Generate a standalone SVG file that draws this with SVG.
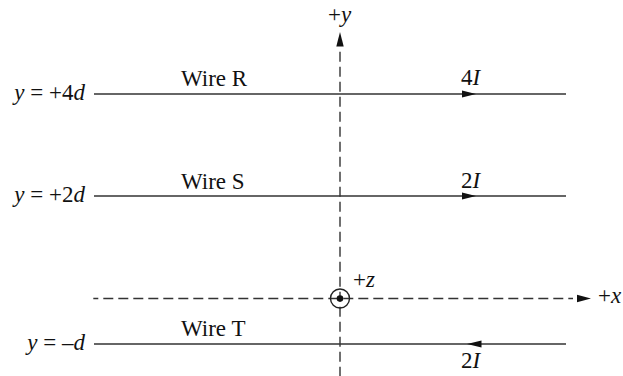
<svg xmlns="http://www.w3.org/2000/svg" width="623" height="376" viewBox="0 0 623 376">
<style>
  text { font-family: "Liberation Serif", "Times New Roman", serif; font-size: 23px; fill: #111; }
  .it { font-style: italic; }
  .wire { stroke: #333; stroke-width: 1.4; fill: none; }
  .axis { stroke: #333; stroke-width: 1.4; fill: none; stroke-dasharray: 10 5; }
  .head { fill: #111; stroke: none; }
</style>
<rect width="623" height="376" fill="#fff"/>
<g id="axes">
  <line class="axis" x1="340" y1="51.7" x2="340" y2="376"/>
  <polygon class="head" points="340,32 336.3,46.5 343.7,46.5"/>
  <text x="328" y="22">+<tspan class="it">y</tspan></text>
  <line class="axis" x1="93.3" y1="298.5" x2="573" y2="298.5" stroke-dashoffset="5"/>
  <polygon class="head" points="591,298.5 577,294.8 577,302.2"/>
  <text x="598" y="303">+<tspan class="it">x</tspan></text>
</g>
<g id="origin">
  <circle cx="340" cy="298.5" r="9.5" fill="none" stroke="#222" stroke-width="1.4"/>
  <circle cx="340" cy="298.5" r="3.3" fill="#111"/>
  <text x="353" y="287">+<tspan class="it">z</tspan></text>
</g>
<g id="wire-r">
  <line class="wire" x1="94" y1="94" x2="566" y2="94"/>
  <polygon class="head" points="476,94 462,90.5 462,97.5"/>
  <text x="181" y="86">Wire R</text>
  <text x="461" y="85">4<tspan class="it">I</tspan></text>
  <text x="85" y="99.5" text-anchor="end"><tspan class="it">y</tspan> = +4<tspan class="it">d</tspan></text>
</g>
<g id="wire-s">
  <line class="wire" x1="94" y1="196" x2="566" y2="196"/>
  <polygon class="head" points="476,196 462,192.5 462,199.5"/>
  <text x="181" y="189">Wire S</text>
  <text x="461" y="188">2<tspan class="it">I</tspan></text>
  <text x="85" y="202" text-anchor="end"><tspan class="it">y</tspan> = +2<tspan class="it">d</tspan></text>
</g>
<g id="wire-t">
  <line class="wire" x1="94" y1="344" x2="566" y2="344"/>
  <polygon class="head" points="467,344 481.5,340.5 481.5,347.5"/>
  <text x="181" y="336">Wire T</text>
  <text x="461" y="368">2<tspan class="it">I</tspan></text>
  <text x="85" y="349.5" text-anchor="end"><tspan class="it">y</tspan> = –<tspan class="it">d</tspan></text>
</g>
</svg>
